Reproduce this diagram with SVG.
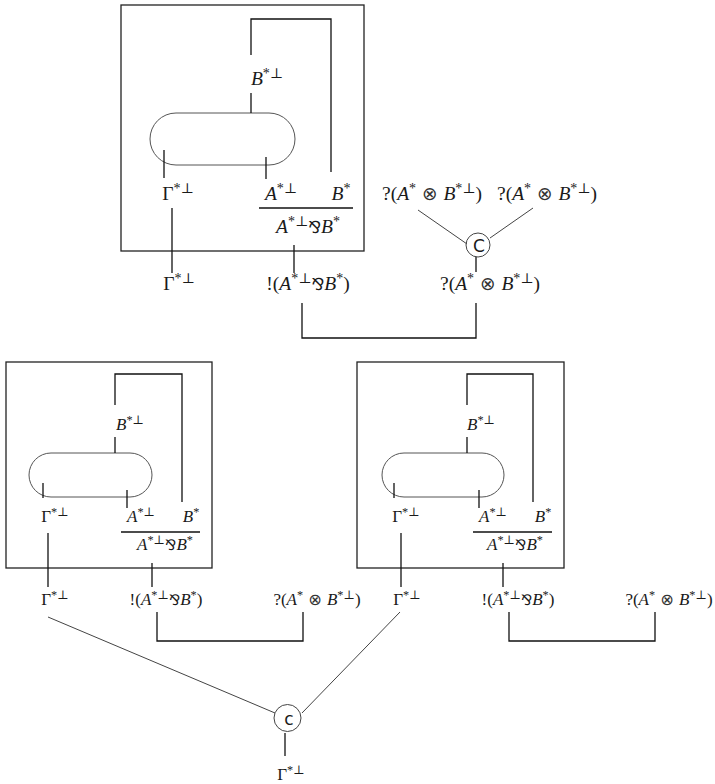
<svg xmlns="http://www.w3.org/2000/svg" width="715" height="784" viewBox="0 0 715 784">
  <style>
    .box { fill: none; stroke: #222; stroke-width: 1.3; }
    .wire { fill: none; stroke: #111; stroke-width: 1.3; }
    .thin { fill: none; stroke: #444; stroke-width: 1; }
    .pill { fill: none; stroke: #555; stroke-width: 1; }
    text { font-family: "Liberation Serif", "DejaVu Serif", serif; fill: #1a1a1a; text-anchor: middle; }
    .lg { font-size: 19.5px; }
    .sm { font-size: 17px; }
    .it { font-style: italic; }
    .sup { font-size: 72%; }
    .sym { font-family: "DejaVu Sans", sans-serif; font-size: 85%; }
    .otimes { font-family: "DejaVu Sans", sans-serif; font-size: 95%; fill: #333; }
    .ctr { font-family: "DejaVu Sans", "Liberation Sans", sans-serif; }
  </style>
  <rect width="715" height="784" fill="#fff"/>

  <!-- top proof net -->
  <g id="top-box">
    <rect class="box" x="121" y="5" width="243" height="246"/>
    <rect class="pill" x="150" y="113" width="145" height="52" rx="26"/>
    <polyline class="wire" points="251,55 251,19 331,19 331,172"/>
    <line class="wire" x1="251" y1="93" x2="251" y2="113"/>
    <line class="wire" x1="164" y1="150" x2="164" y2="178"/>
    <line class="wire" x1="266" y1="157" x2="266" y2="179"/>
    <line class="wire" x1="259" y1="208" x2="353" y2="208"/>
    <text class="lg" x="267" y="85"><tspan class="it">B</tspan><tspan class="sup" dy="-7">*⊥</tspan></text>
    <text class="lg" x="178" y="200">Γ<tspan class="sup" dy="-7">*⊥</tspan></text>
    <text class="lg" x="281" y="200"><tspan class="it">A</tspan><tspan class="sup" dy="-7">*⊥</tspan></text>
    <text class="lg" x="341" y="200"><tspan class="it">B</tspan><tspan class="sup" dy="-7">*</tspan></text>
    <text class="lg" x="308" y="233"><tspan class="it">A</tspan><tspan class="sup" dy="-7">*⊥</tspan><tspan class="sym" dy="7">⅋</tspan><tspan class="it">B</tspan><tspan class="sup" dy="-7">*</tspan></text>
  </g>
  <g id="top-outputs">
    <text class="lg" x="179" y="290">Γ<tspan class="sup" dy="-7">*⊥</tspan></text>
    <text class="lg" x="308" y="290">!(<tspan class="it">A</tspan><tspan class="sup" dy="-7">*⊥</tspan><tspan class="sym" dy="7">⅋</tspan><tspan class="it">B</tspan><tspan class="sup" dy="-7">*</tspan><tspan dy="7">)</tspan></text>
    <text class="lg" x="490" y="290">?(<tspan class="it">A</tspan><tspan class="sup" dy="-7">*</tspan><tspan class="otimes" dy="7"> ⊗ </tspan><tspan class="it">B</tspan><tspan class="sup" dy="-7">*⊥</tspan><tspan dy="7">)</tspan></text>
  </g>
  <g id="top-contraction">
    <circle class="thin" cx="478" cy="245" r="12"/>
    <text class="ctr" x="479" y="251.5" style="font-size:17px">C</text>
    <text class="lg" x="432" y="200">?(<tspan class="it">A</tspan><tspan class="sup" dy="-7">*</tspan><tspan class="otimes" dy="7"> ⊗ </tspan><tspan class="it">B</tspan><tspan class="sup" dy="-7">*⊥</tspan><tspan dy="7">)</tspan></text>
    <text class="lg" x="547" y="200">?(<tspan class="it">A</tspan><tspan class="sup" dy="-7">*</tspan><tspan class="otimes" dy="7"> ⊗ </tspan><tspan class="it">B</tspan><tspan class="sup" dy="-7">*⊥</tspan><tspan dy="7">)</tspan></text>
  </g>

  <!-- bottom left proof net -->
  <g id="left-box">
    <rect class="box" x="6" y="362" width="206" height="206"/>
    <rect class="pill" x="29" y="453" width="123" height="44" rx="22"/>
    <polyline class="wire" points="115,405 115,374 182,374 182,502"/>
    <line class="wire" x1="115" y1="437" x2="115" y2="453"/>
    <line class="wire" x1="43" y1="483" x2="43" y2="498"/>
    <line class="wire" x1="127" y1="490" x2="127" y2="508"/>
    <line class="wire" x1="121" y1="532" x2="200" y2="532"/>
    <text class="sm" x="130" y="430"><tspan class="it">B</tspan><tspan class="sup" dy="-6">*⊥</tspan></text>
    <text class="sm" x="55" y="522">Γ<tspan class="sup" dy="-6">*⊥</tspan></text>
    <text class="sm" x="141" y="522"><tspan class="it">A</tspan><tspan class="sup" dy="-6">*⊥</tspan></text>
    <text class="sm" x="191" y="522"><tspan class="it">B</tspan><tspan class="sup" dy="-6">*</tspan></text>
    <text class="sm" x="165" y="550"><tspan class="it">A</tspan><tspan class="sup" dy="-6">*⊥</tspan><tspan class="sym" dy="6">⅋</tspan><tspan class="it">B</tspan><tspan class="sup" dy="-6">*</tspan></text>
  </g>
  <g id="left-outputs">
    <text class="sm" x="55" y="605">Γ<tspan class="sup" dy="-6">*⊥</tspan></text>
    <text class="sm" x="166" y="605">!(<tspan class="it">A</tspan><tspan class="sup" dy="-6">*⊥</tspan><tspan class="sym" dy="6">⅋</tspan><tspan class="it">B</tspan><tspan class="sup" dy="-6">*</tspan><tspan dy="6">)</tspan></text>
    <text class="sm" x="317" y="605">?(<tspan class="it">A</tspan><tspan class="sup" dy="-6">*</tspan><tspan class="otimes" dy="6"> ⊗ </tspan><tspan class="it">B</tspan><tspan class="sup" dy="-6">*⊥</tspan><tspan dy="6">)</tspan></text>
  </g>

  <!-- bottom right proof net -->
  <g id="right-box">
    <rect class="box" x="357" y="362" width="207" height="206"/>
    <rect class="pill" x="382" y="453" width="122" height="44" rx="22"/>
    <polyline class="wire" points="467,405 467,374 533,374 533,502"/>
    <line class="wire" x1="467" y1="437" x2="467" y2="453"/>
    <line class="wire" x1="394" y1="483" x2="394" y2="498"/>
    <line class="wire" x1="479" y1="490" x2="479" y2="508"/>
    <line class="wire" x1="473" y1="532" x2="552" y2="532"/>
    <text class="sm" x="481" y="430"><tspan class="it">B</tspan><tspan class="sup" dy="-6">*⊥</tspan></text>
    <text class="sm" x="406" y="522">Γ<tspan class="sup" dy="-6">*⊥</tspan></text>
    <text class="sm" x="493" y="522"><tspan class="it">A</tspan><tspan class="sup" dy="-6">*⊥</tspan></text>
    <text class="sm" x="543" y="522"><tspan class="it">B</tspan><tspan class="sup" dy="-6">*</tspan></text>
    <text class="sm" x="515" y="550"><tspan class="it">A</tspan><tspan class="sup" dy="-6">*⊥</tspan><tspan class="sym" dy="6">⅋</tspan><tspan class="it">B</tspan><tspan class="sup" dy="-6">*</tspan></text>
  </g>
  <g id="right-outputs">
    <text class="sm" x="407" y="605">Γ<tspan class="sup" dy="-6">*⊥</tspan></text>
    <text class="sm" x="518" y="605">!(<tspan class="it">A</tspan><tspan class="sup" dy="-6">*⊥</tspan><tspan class="sym" dy="6">⅋</tspan><tspan class="it">B</tspan><tspan class="sup" dy="-6">*</tspan><tspan dy="6">)</tspan></text>
    <text class="sm" x="669" y="605">?(<tspan class="it">A</tspan><tspan class="sup" dy="-6">*</tspan><tspan class="otimes" dy="6"> ⊗ </tspan><tspan class="it">B</tspan><tspan class="sup" dy="-6">*⊥</tspan><tspan dy="6">)</tspan></text>
  </g>

  <!-- bottom contraction -->
  <g id="bottom-contraction">
    <circle class="thin" cx="287.5" cy="718" r="13.5"/>
    <text class="ctr" x="289" y="725" style="font-size:17px">c</text>
    <text class="sm" x="291" y="780">Γ<tspan class="sup" dy="-6">*⊥</tspan></text>
  </g>

  <!-- connectors -->
  <g id="connectors">
    <line class="wire" x1="172" y1="208" x2="172" y2="273"/>
    <line class="wire" x1="294" y1="245" x2="294" y2="273"/>
    <polyline class="wire" points="302,303 302,338 476,338 476,303"/>
    <line class="wire" x1="476" y1="257" x2="476" y2="272"/>
    <line class="thin" x1="418" y1="210" x2="467" y2="244"/>
    <line class="thin" x1="533" y1="208" x2="490" y2="238"/>

    <line class="wire" x1="48" y1="533" x2="48" y2="587"/>
    <line class="wire" x1="152" y1="563" x2="152" y2="587"/>
    <polyline class="wire" points="157,612 157,641 303,641 303,612"/>

    <line class="wire" x1="401" y1="533" x2="401" y2="587"/>
    <line class="wire" x1="503" y1="563" x2="503" y2="587"/>
    <polyline class="wire" points="509,612 509,641 655,641 655,612"/>

    <line class="thin" x1="48" y1="617" x2="275" y2="713"/>
    <line class="thin" x1="400" y1="612" x2="302" y2="713"/>
    <line class="wire" x1="285" y1="733" x2="285" y2="756"/>
  </g>
</svg>
